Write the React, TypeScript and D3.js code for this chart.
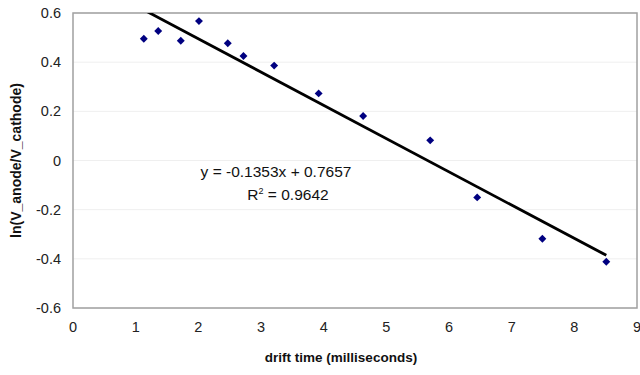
import React from "react";
import { scaleLinear, line, symbol, symbolDiamond2 } from "d3";

const driftTime = [1.13, 1.36, 1.72, 2.01, 2.47, 2.72, 3.21, 3.92, 4.63, 5.7, 6.45, 7.49, 8.51];
const lnRatio = [0.495, 0.527, 0.487, 0.567, 0.477, 0.425, 0.386, 0.273, 0.181, 0.082, -0.15, -0.318, -0.412];
const xTicks = [0, 1, 2, 3, 4, 5, 6, 7, 8, 9];
const yTicks = [-0.6, -0.4, -0.2, 0, 0.2, 0.4, 0.6];
const slope = -0.1353;
const intercept = 0.7657;
const rSquared = "0.9642";

const W = 640;
const H = 375;
const margin = { left: 73, right: 3, top: 13, bottom: 67 };

export default function App() {
  const x = scaleLinear().domain([0, 9]).range([margin.left, W - margin.right]);
  const y = scaleLinear().domain([-0.6, 0.6]).range([H - margin.bottom, margin.top]);

  const x0 = driftTime[0];
  const x1 = driftTime[driftTime.length - 1];
  const fitPts: [number, number][] = [x0, x1].map((t) => [t, slope * t + intercept]);
  const fitLine = line<[number, number]>()
    .x((d) => x(d[0]))
    .y((d) => y(d[1]));
  const diamond = symbol().type(symbolDiamond2).size(40)();
  const font = "'Liberation Sans', Arial, sans-serif";

  return (
    <svg
      width={W}
      height={H}
      style={{ position: "absolute", left: 0, top: 0, background: "#fff" }}
      fontFamily={font}
    >
      <defs>
        <clipPath id="plot">
          <rect x={x(0)} y={y(0.6)} width={x(9) - x(0)} height={y(-0.6) - y(0.6)} />
        </clipPath>
      </defs>
      {yTicks.map((t) => (
        <line key={"g" + t} x1={x(0)} x2={x(9)} y1={y(t)} y2={y(t)} stroke="#efefef" strokeWidth={1} />
      ))}
      <rect
        x={x(0)}
        y={y(0.6)}
        width={x(9) - x(0)}
        height={y(-0.6) - y(0.6)}
        fill="none"
        stroke="#a0a0a0"
        strokeWidth={1.5}
      />
      {yTicks.map((t) => (
        <text key={"y" + t} x={x(0) - 12} y={y(t) + 5} textAnchor="end" fontSize={14.5} fill="#222">
          {t === 0 ? "0" : t.toFixed(1)}
        </text>
      ))}
      {xTicks.map((t) => (
        <text key={"x" + t} x={x(t)} y={y(-0.6) + 24} textAnchor="middle" fontSize={14.5} fill="#222">
          {t}
        </text>
      ))}
      <path d={fitLine(fitPts) || ""} stroke="#000" strokeWidth={2.8} fill="none" clipPath="url(#plot)" />
      {driftTime.map((t, i) => (
        <path key={"p" + i} d={diamond} transform={`translate(${x(t)},${y(lnRatio[i])})`} fill="#000080" />
      ))}
      <text x={276} y={177} textAnchor="middle" fontSize={15.5} fill="#111">
        y = {slope}x + {intercept}
      </text>
      <text x={288} y={200} textAnchor="middle" fontSize={15.5} fill="#111">
        R<tspan dy={-6} fontSize={9}>2</tspan>
        <tspan dy={6}> = {rSquared}</tspan>
      </text>
      <text x={341} y={362} textAnchor="middle" fontSize={13.5} fontWeight="bold" fill="#111">
        drift time (milliseconds)
      </text>
      <text
        transform={`translate(21,${(y(0.6) + y(-0.6)) / 2}) rotate(-90)`}
        textAnchor="middle"
        fontSize={14}
        fontWeight="bold"
        fill="#111"
      >
        ln(V_anode/V_cathode)
      </text>
    </svg>
  );
}
